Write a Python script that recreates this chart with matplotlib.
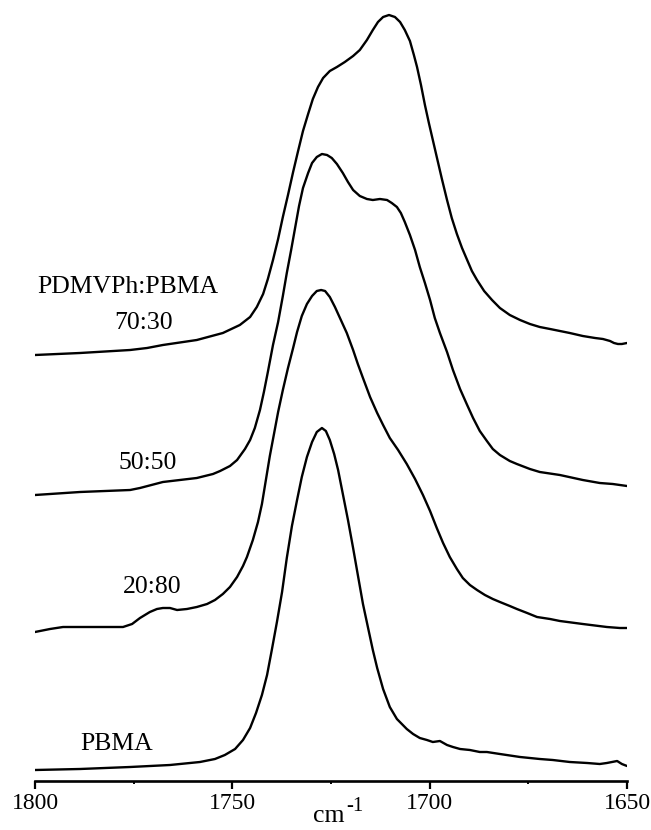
import matplotlib
matplotlib.use("Agg")
import matplotlib.pyplot as plt
from matplotlib.ticker import FixedLocator

plt.rcParams['font.family'] = ['Liberation Serif', 'DejaVu Serif']

# ---------------- data (wavenumber in cm^-1, absorbance in arbitrary units) ----------------
wn_7030 = [1800.0, 1788.6, 1775.9, 1771.6, 1767.6, 1759.0, 1752.4, 1748.1, 1745.5, 1743.8,
           1742.2, 1741.0, 1739.7, 1738.4, 1737.2, 1735.9, 1734.6, 1733.4, 1732.1, 1730.8,
           1729.6, 1728.3, 1727.0, 1725.3, 1723.5, 1721.5, 1719.4, 1717.7, 1715.9, 1714.4,
           1713.1, 1711.8, 1710.3, 1708.8, 1707.5, 1706.3, 1705.0, 1704.0, 1703.2, 1702.2,
           1701.2, 1700.2, 1699.2, 1698.2, 1696.9, 1695.6, 1694.4, 1693.1, 1691.8, 1690.5,
           1689.3, 1688.0, 1686.2, 1684.2, 1682.2, 1679.7, 1677.1, 1674.6, 1672.1, 1669.5,
           1667.0, 1664.5, 1661.2, 1658.1, 1656.1, 1654.3, 1653.3, 1652.3, 1651.3, 1650.0]
abs_7030 = [0.00, 0.02, 0.05, 0.07, 0.10, 0.15, 0.22, 0.30, 0.38, 0.48,
            0.61, 0.76, 0.95, 1.16, 1.38, 1.60, 1.83, 2.03, 2.24, 2.41,
            2.56, 2.68, 2.77, 2.84, 2.88, 2.93, 2.99, 3.05, 3.15, 3.25,
            3.33, 3.38, 3.40, 3.38, 3.33, 3.25, 3.14, 3.00, 2.88, 2.70,
            2.50, 2.32, 2.15, 1.98, 1.76, 1.55, 1.37, 1.21, 1.07, 0.95,
            0.84, 0.75, 0.64, 0.55, 0.47, 0.40, 0.35, 0.31, 0.28, 0.26,
            0.24, 0.22, 0.19, 0.17, 0.16, 0.14, 0.12, 0.11, 0.11, 0.12]

wn_5050 = [1800.0, 1788.6, 1775.9, 1773.4, 1767.6, 1759.0, 1754.9, 1753.1, 1750.6, 1748.8,
           1746.8, 1745.5, 1744.3, 1743.0, 1742.0, 1741.0, 1739.7, 1738.4, 1737.2, 1736.2,
           1735.1, 1734.1, 1733.1, 1732.1, 1730.8, 1729.8, 1728.6, 1727.3, 1726.0, 1724.8,
           1723.5, 1722.0, 1720.7, 1719.4, 1717.7, 1715.9, 1714.4, 1712.6, 1710.8, 1709.6,
           1708.3, 1707.3, 1706.3, 1705.0, 1703.7, 1702.5, 1701.2, 1699.9, 1698.7, 1697.4,
           1695.6, 1694.1, 1692.3, 1690.5, 1689.0, 1687.3, 1685.5, 1684.0, 1682.2, 1679.7,
           1677.9, 1674.6, 1672.1, 1667.0, 1661.2, 1656.9, 1653.6, 1651.8, 1650.0]
abs_5050 = [0.00, 0.03, 0.05, 0.07, 0.13, 0.17, 0.21, 0.24, 0.29, 0.35,
            0.46, 0.55, 0.67, 0.85, 1.03, 1.23, 1.50, 1.73, 1.99, 2.22,
            2.45, 2.67, 2.89, 3.07, 3.22, 3.32, 3.38, 3.41, 3.40, 3.37,
            3.31, 3.22, 3.13, 3.05, 2.99, 2.96, 2.95, 2.96, 2.95, 2.92,
            2.88, 2.82, 2.73, 2.60, 2.45, 2.28, 2.12, 1.95, 1.77, 1.62,
            1.43, 1.25, 1.06, 0.90, 0.77, 0.64, 0.54, 0.46, 0.40, 0.34,
            0.31, 0.26, 0.23, 0.20, 0.15, 0.12, 0.11, 0.10, 0.09]

wn_2080 = [1800.0, 1796.2, 1792.9, 1787.8, 1783.5, 1777.7, 1775.4, 1773.4, 1770.9, 1769.1,
           1767.6, 1765.8, 1764.0, 1761.5, 1759.0, 1756.4, 1754.4, 1752.4, 1750.6, 1748.8,
           1747.3, 1746.3, 1744.8, 1743.5, 1742.5, 1741.5, 1740.5, 1739.4, 1738.4, 1737.2,
           1735.9, 1734.6, 1733.6, 1732.4, 1731.1, 1729.8, 1728.6, 1727.5, 1726.5, 1725.3,
           1724.0, 1722.5, 1721.0, 1719.4, 1718.2, 1716.9, 1715.1, 1713.3, 1711.8, 1710.1,
           1708.0, 1705.8, 1703.7, 1701.7, 1699.9, 1698.2, 1696.6, 1694.9, 1693.1, 1691.6,
           1689.8, 1688.0, 1686.0, 1684.0, 1682.2, 1679.7, 1677.9, 1675.3, 1672.8, 1669.5,
           1667.0, 1661.2, 1655.1, 1651.8, 1650.0]
abs_2080 = [0.00, 0.03, 0.05, 0.05, 0.05, 0.05, 0.08, 0.14, 0.20, 0.23,
            0.24, 0.24, 0.22, 0.23, 0.25, 0.28, 0.32, 0.38, 0.45, 0.55,
            0.66, 0.75, 0.92, 1.10, 1.28, 1.52, 1.76, 1.99, 2.20, 2.42,
            2.64, 2.84, 3.00, 3.16, 3.28, 3.36, 3.41, 3.42, 3.41, 3.35,
            3.25, 3.12, 2.99, 2.82, 2.68, 2.54, 2.35, 2.19, 2.07, 1.94,
            1.82, 1.68, 1.53, 1.37, 1.21, 1.04, 0.89, 0.75, 0.63, 0.54,
            0.47, 0.42, 0.37, 0.33, 0.30, 0.26, 0.23, 0.19, 0.15, 0.13,
            0.11, 0.08, 0.05, 0.04, 0.04]

wn_pbma = [1800.0, 1788.6, 1775.9, 1765.8, 1758.2, 1754.4, 1751.9, 1749.3, 1747.3, 1745.5,
           1744.0, 1742.5, 1741.2, 1740.0, 1738.7, 1737.4, 1736.2, 1734.9, 1733.6, 1732.4,
           1731.1, 1729.8, 1728.6, 1727.3, 1726.3, 1725.3, 1724.2, 1723.2, 1722.0, 1720.7,
           1719.4, 1718.2, 1716.9, 1715.6, 1714.4, 1713.3, 1711.8, 1710.1, 1708.3, 1705.8,
           1704.2, 1702.5, 1700.7, 1699.2, 1697.4, 1695.6, 1694.1, 1692.3, 1689.8, 1687.3,
           1685.5, 1682.2, 1677.1, 1672.1, 1668.8, 1664.5, 1660.1, 1656.9, 1655.1, 1653.8,
           1652.5, 1651.3, 1650.0]
abs_pbma = [0.00, 0.01, 0.03, 0.05, 0.08, 0.11, 0.15, 0.21, 0.30, 0.42,
            0.57, 0.75, 0.95, 1.20, 1.48, 1.78, 2.12, 2.44, 2.70, 2.93,
            3.13, 3.28, 3.38, 3.42, 3.39, 3.30, 3.16, 3.00, 2.76, 2.50,
            2.22, 1.95, 1.66, 1.42, 1.20, 1.02, 0.81, 0.63, 0.51, 0.41,
            0.36, 0.32, 0.30, 0.28, 0.29, 0.25, 0.23, 0.21, 0.20, 0.18,
            0.18, 0.16, 0.13, 0.11, 0.10, 0.08, 0.07, 0.06, 0.07, 0.08,
            0.09, 0.06, 0.04]

labels = ["70:30", "50:50", "20:80", "PBMA"]
offsets = [4.26, 2.86, 1.49, 0.11]          # vertical stacking offsets (a.u.)
series = [(wn_7030, abs_7030), (wn_5050, abs_5050), (wn_2080, abs_2080), (wn_pbma, abs_pbma)]

x_major = [1800, 1750, 1700, 1650]
x_minor = [1775, 1725, 1675]

# ---------------- figure ----------------
W, H = 651, 830
fig = plt.figure(figsize=(W / 100, H / 100), dpi=100)
ax = fig.add_axes([35 / W, 1 - 781 / H, (627 - 35) / W, 781 / H])

for (wn, a), off in zip(series, offsets):
    ax.plot(wn, [v + off for v in a], color="black", lw=1.7,
            solid_joinstyle="round", solid_capstyle="round")

ax.set_xlim(1800, 1650)
ax.set_ylim(0, 7.81)

for s in ("left", "right", "top"):
    ax.spines[s].set_visible(False)
ax.spines["bottom"].set_linewidth(1.9)
ax.set_yticks([])
ax.xaxis.set_major_locator(FixedLocator(x_major))
ax.xaxis.set_minor_locator(FixedLocator(x_minor))
ax.set_xticklabels([str(v) for v in x_major])
ax.tick_params(axis="x", which="major", direction="out", length=6, width=1.6,
               labelsize=17, pad=2.5)
ax.tick_params(axis="x", which="minor", direction="out", length=2.5, width=1.4)

# x label "cm^-1"
fig.text(329 / W, 1 - 822 / H, "cm", fontsize=18.5, ha="center", va="baseline")
fig.text(355 / W, 1 - 806 / H, "-1", fontsize=15, ha="center", va="center")

# curve labels
fig.text(128 / W, 1 - 287 / H, "PDMVPh:PBMA", fontsize=18.5, ha="center", va="center")
label_pos = [(144, 323), (148, 463), (152, 587), (117, 744)]
for lab, (px, py) in zip(labels, label_pos):
    fig.text(px / W, 1 - py / H, lab, fontsize=18.5, ha="center", va="center")

fig.savefig("out.png", dpi=100)
